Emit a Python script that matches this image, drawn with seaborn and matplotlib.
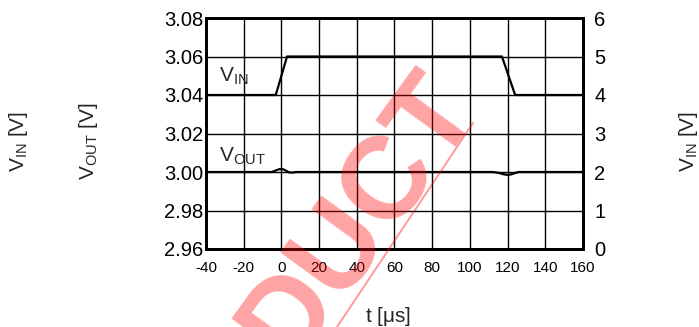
import matplotlib
matplotlib.use("Agg")
import matplotlib.pyplot as plt
from matplotlib.lines import Line2D
import seaborn as sns
import pandas as pd

# Input voltage step (right axis, V)
t_in = [-40, -3, 3, 117, 124, 160]
v_in = [4.0, 4.0, 5.0, 5.0, 4.0, 4.0]

# Output voltage response (left axis, V)
t_out = [-40, -5, -3, -1, 1, 3, 4, 6, 8,
         112, 115, 118, 120, 122, 124, 126, 160]
v_out = [3.000, 3.000, 3.0008, 3.0015, 3.0014, 3.0004, 2.9998, 2.9997, 3.000,
         3.000, 2.9996, 2.9988, 2.9985, 2.9988, 2.9995, 3.000, 3.000]

x_ticks = [-40, -20, 0, 20, 40, 60, 80, 100, 120, 140, 160]
y_left_ticks = [2.96, 2.98, 3.00, 3.02, 3.04, 3.06, 3.08]
y_right_ticks = [0, 1, 2, 3, 4, 5, 6]

sns.set_style("white")
plt.rcParams["font.family"] = ["Liberation Sans", "DejaVu Sans"]
plt.rcParams["mathtext.fontset"] = "custom"
plt.rcParams["mathtext.rm"] = "Liberation Sans"

df_in = pd.DataFrame({"t": t_in, "v": v_in})
df_out = pd.DataFrame({"t": t_out, "v": v_out})

fig = plt.figure(figsize=(6.99, 3.27), dpi=100)
ax = fig.add_axes([206 / 699, 1 - 249 / 327, 377 / 699, 231 / 327])
ax2 = ax.twinx()

sns.lineplot(data=df_out, x="t", y="v", ax=ax, color="black", linewidth=1.6,
             estimator=None, sort=False)
sns.lineplot(data=df_in, x="t", y="v", ax=ax2, color="black", linewidth=1.6,
             estimator=None, sort=False)

ax.set_xlim(x_ticks[0], x_ticks[-1])
ax.set_ylim(y_left_ticks[0], y_left_ticks[-1])
ax2.set_ylim(y_right_ticks[0], y_right_ticks[-1])
ax.set_xticks(x_ticks)
ax.set_xticklabels([str(v) for v in x_ticks])
ax.set_yticks(y_left_ticks)
ax.set_yticklabels([f"{v:.2f}" for v in y_left_ticks])
ax2.set_yticks(y_right_ticks)
ax2.set_yticklabels([str(v) for v in y_right_ticks])

ax.grid(True, color="black", linewidth=1.0)
ax.set_axisbelow(True)
ax2.grid(False)
for a in (ax, ax2):
    for s in a.spines.values():
        s.set_color("black")
        s.set_linewidth(2.0)
    a.set_xlabel("")
    a.set_ylabel("")

ax.tick_params(axis="x", length=0, pad=9, labelsize=11, colors="black")
ax.tick_params(axis="y", length=0, pad=2, labelsize=14.5, colors="black")
ax2.tick_params(axis="y", length=0, pad=8, labelsize=14.5, colors="black")

# Curve labels inside the plot
ax.text(-33, 3.0468, r"$\mathregular{V_{IN}}$", fontsize=15, va="baseline", ha="left")
ax.text(-33, 3.0052, r"$\mathregular{V_{OUT}}$", fontsize=15, va="baseline", ha="left")

# Axis titles
fig.text(388 / 699, 1 - 317 / 327, r"t [$\mathregular{\mu}$s]", fontsize=15,
         ha="center", va="center")
fig.text(19 / 699, 1 - 141 / 327, r"$\mathregular{V_{IN}}$ [V]", fontsize=15,
         rotation=90, ha="center", va="center")
fig.text(88 / 699, 1 - 141 / 327, r"$\mathregular{V_{OUT}}$ [V]", fontsize=15,
         rotation=90, ha="center", va="center")
fig.text(688 / 699, 1 - 141 / 327, r"$\mathregular{V_{IN}}$ [V]", fontsize=15,
         rotation=90, ha="center", va="center")

# Translucent stamp across the chart
fig.text(360 / 699, 1 - 218 / 327, "DUCT", fontsize=84, fontweight="bold",
         color="red", alpha=0.36, rotation=54, rotation_mode="anchor",
         ha="center", va="center", zorder=10)
fig.add_artist(Line2D([337 / 699, 473 / 699], [1 - 327 / 327, 1 - 123 / 327],
                      transform=fig.transFigure, color="red", alpha=0.4,
                      linewidth=1.4, zorder=10))

fig.savefig("out.png", dpi=100)
